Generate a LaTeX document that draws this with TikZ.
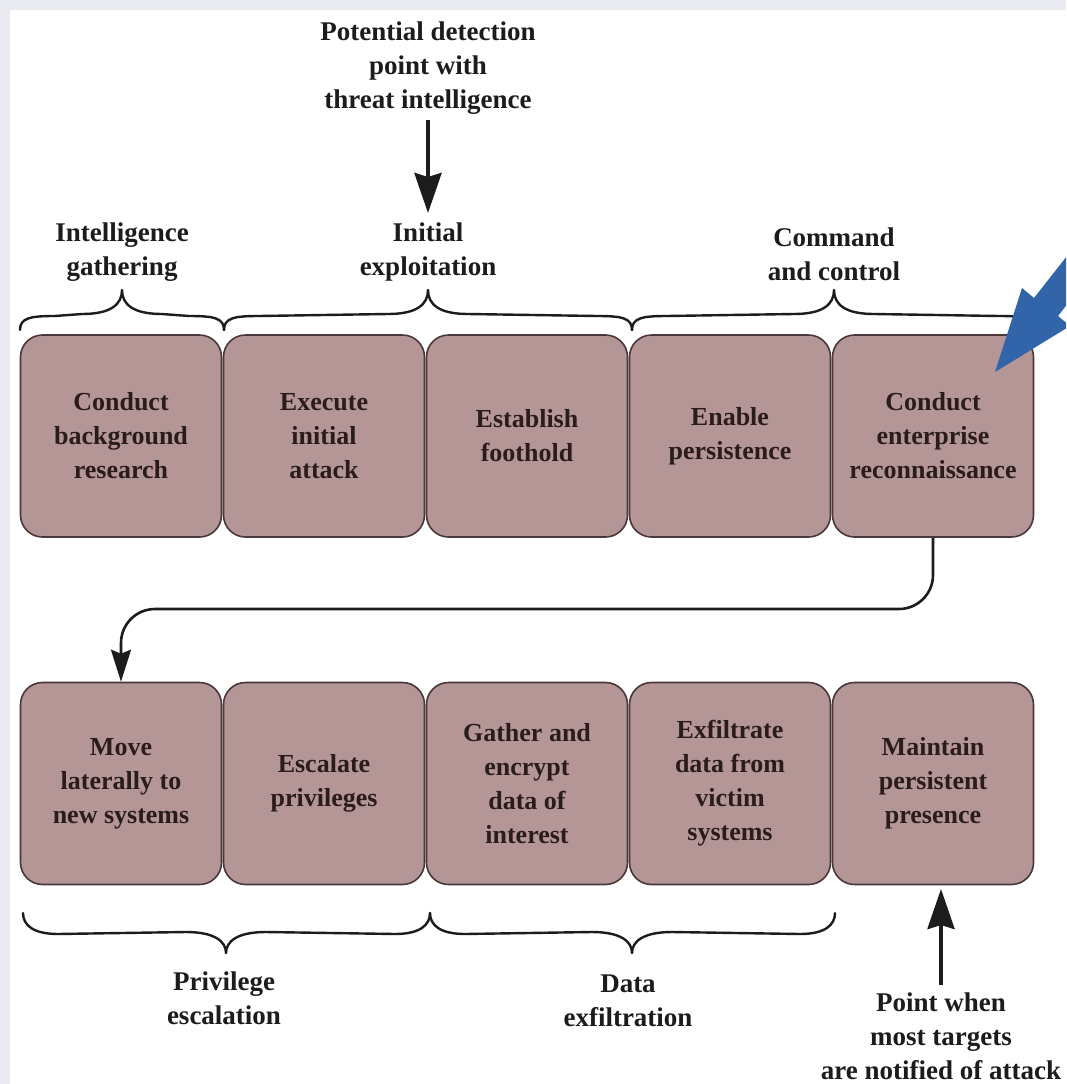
\documentclass[tikz,border=0pt]{standalone}
\usepackage{fontspec}
\setmainfont{Liberation Serif}
\usetikzlibrary{arrows.meta}

\definecolor{boxfill}{HTML}{B59697}
\definecolor{boxline}{HTML}{4A3738}
\definecolor{boxtext}{HTML}{2A1C1C}
\definecolor{ink}{HTML}{1C1C1C}
\definecolor{paper}{HTML}{E9EBF0}
\definecolor{pointer}{HTML}{3164A8}

% brace opening downwards onto the upper row: ends at y=330, tip up at y=290
\newcommand\upcurl[3]{%
  \draw[bracestyle] (#1,330) .. controls (#1,318) and (#1+10,316) .. (#1+35,316)
     -- (#2-40,314) .. controls (#2-12,314) and (#2,305) .. (#2,290)
     .. controls (#2,305) and (#2+12,314) .. (#2+40,314)
     -- (#3-35,316) .. controls (#3-10,316) and (#3,318) .. (#3,330);}

% brace opening upwards under the lower row: ends at y=913, tip down at y=953
\newcommand\downcurl[3]{%
  \draw[bracestyle] (#1,913) .. controls (#1,925) and (#1+10,934) .. (#1+35,934)
     -- (#2-40,932) .. controls (#2-12,932) and (#2,941) .. (#2,953)
     .. controls (#2,941) and (#2+12,932) .. (#2+40,932)
     -- (#3-35,934) .. controls (#3-10,934) and (#3,925) .. (#3,913);}

\begin{document}
\begin{tikzpicture}[x=1pt,y=-1pt,
  stage/.style={draw=boxline, line width=1.6pt, fill=boxfill, rounded corners=22pt,
    minimum width=201pt, minimum height=202pt, inner sep=0pt, align=center,
    text=boxtext, font=\fontsize{26}{34}\selectfont\bfseries},
  caption/.style={align=center, text=ink, inner sep=0pt,
    font=\fontsize{27}{34}\selectfont\bfseries},
  bracestyle/.style={draw=ink, line width=2.4pt, line cap=round, line join=round},
  bigarrow/.style={draw=ink, line width=4pt, -{Stealth[length=40pt,width=27pt,inset=4pt]}},
  flow/.style={draw=ink, line width=2.6pt, rounded corners=34pt,
    -{Stealth[length=32pt,width=20pt,inset=4pt]}}
]
\useasboundingbox (0,0) rectangle (1066,1084);
\fill[paper] (0,0) rectangle (1066,1084);
\fill[white] (10,10) rectangle (1066,1084);

% upper row of stages
\node[stage] (t1) at (121,436) {Conduct\\background\\research};
\node[stage] (t2) at (324,436) {Execute\\initial\\attack};
\node[stage] (t3) at (527,436) {Establish\\foothold};
\node[stage] (t4) at (730,436) {Enable\\persistence};
\node[stage] (t5) at (933,436) {Conduct\\enterprise\\reconnaissance};

% lower row of stages
\node[stage] (b1) at (121,783.5) {Move\\laterally to\\new systems};
\node[stage] (b2) at (324,783.5) {Escalate\\privileges};
\node[stage] (b3) at (527,783.5) {Gather and\\encrypt\\data of\\interest};
\node[stage] (b4) at (730,783.5) {Exfiltrate\\data from\\victim\\systems};
\node[stage] (b5) at (933,783.5) {Maintain\\persistent\\presence};

% phase captions
\node[caption] (det)   at (428,68)   {Potential detection\\point with\\threat intelligence};
\node[caption] (intel) at (122,252)  {Intelligence\\gathering};
\node[caption] (init)  at (428,252)  {Initial\\exploitation};
\node[caption] (cc)    at (834,254)  {Command\\and control};
\node[caption] (priv)  at (224,998)  {Privilege\\escalation};
\node[caption] (exfil) at (628,1001) {Data\\exfiltration};
\node[caption] (notif) at (941,1036) {Point when\\most targets\\are notified of attack};

% phase braces
\upcurl{20}{122}{224}
\upcurl{224}{428}{632}
\upcurl{632}{834}{1034}
\downcurl{23}{226}{430}
\downcurl{430}{632}{835}

% detection and notification markers
\coordinate (detTail) at (428,120);
\coordinate (detTip)  at (428,213);
\draw[bigarrow] (detTail) -- (detTip);
\coordinate (notTail) at (941,985);
\coordinate (notTip)  at (941,889);
\draw[bigarrow] (notTail) -- (notTip);

% flow from the upper row into the lower row
\coordinate (bendY) at (0,609);
\draw[flow] (t5.south) -- (t5.south |- bendY) -- (b1.north |- bendY) -- (b1.north);

% highlight pointer
\begin{scope}
  \clip (0,0) rectangle (1066,1084);
  \fill[pointer] (995,372) -- (1022,288) -- (1034,298) -- (1158,140) -- (1181,159)
    -- (1058,316) -- (1070,326) -- cycle;
\end{scope}
\end{tikzpicture}
\end{document}
